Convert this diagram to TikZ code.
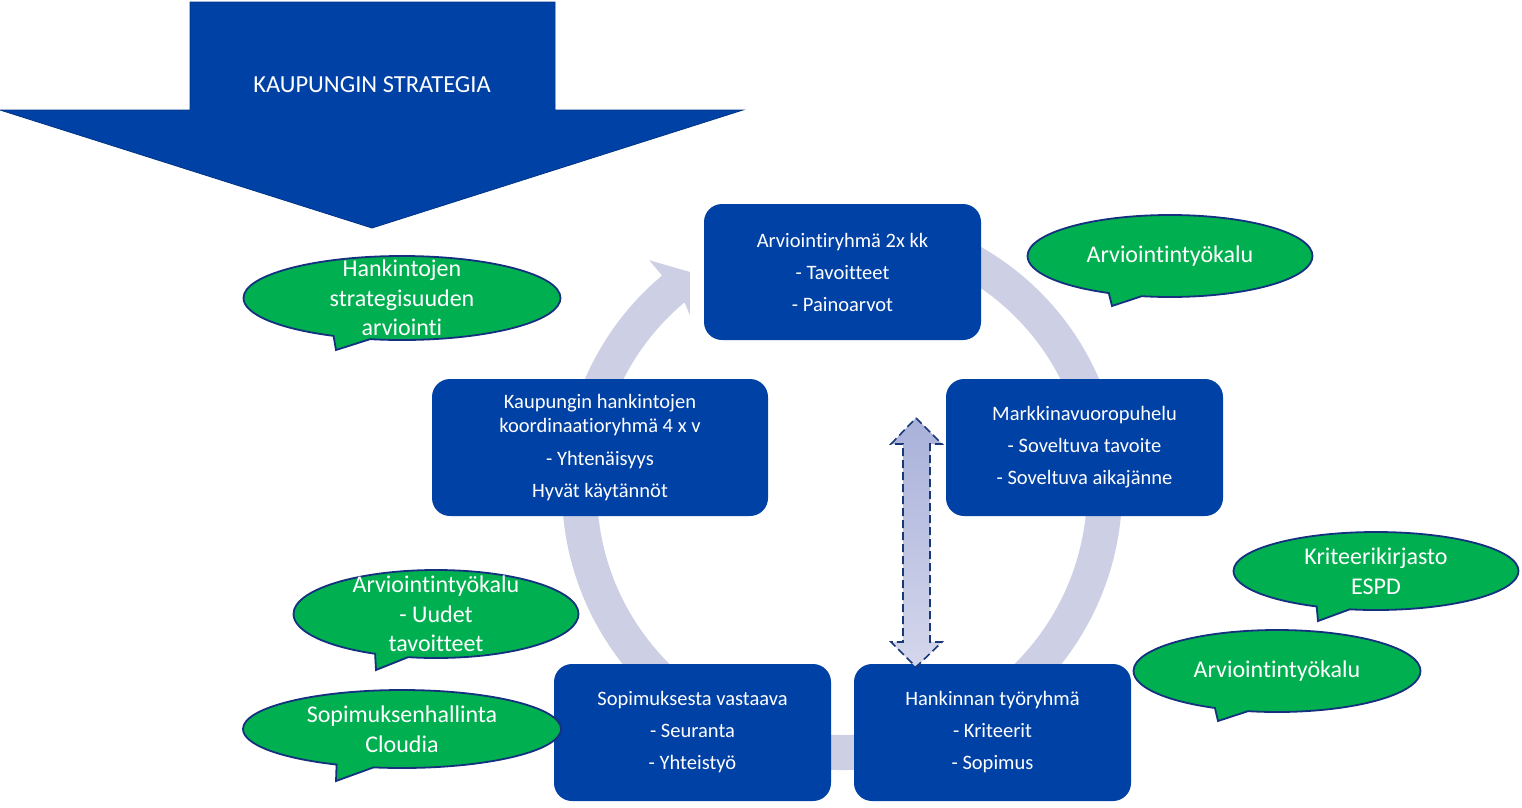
\documentclass[tikz,border=0pt]{standalone}
\usepackage{fontspec}
\setmainfont{Carlito}[Ligatures=CommonOff]
\usetikzlibrary{calc,shapes.callouts}
\definecolor{boxblue}{HTML}{0041A6}
\definecolor{ringgrey}{HTML}{CDD0E4}
\definecolor{callgreen}{HTML}{00B050}
\definecolor{navy}{HTML}{14307F}
\definecolor{dashblue}{HTML}{183878}
\definecolor{shadetop}{HTML}{A9B1DA}
\definecolor{shadebot}{HTML}{D4D7EC}
\begin{document}
\begin{tikzpicture}[x=1pt, y=-1pt,
    box/.style={rounded corners=18pt, fill=boxblue, text=white, align=center, inner sep=0pt,
      font=\fontsize{20.5}{24}\selectfont},
    bubble/.style={ellipse callout, fill=callgreen, draw=navy, line width=1.8pt, inner sep=0pt,
      callout pointer arc=14},
    bubbletext/.style={text=white, align=center, font=\fontsize{24}{29.5}\selectfont}]
  \useasboundingbox (0,0) rectangle (1522,807);
  % strategy arrow
  \filldraw[fill=boxblue, draw=boxblue!80!black, line width=0.8pt]
    (190,2) -- (555,2) -- (555,110) -- (743,110) -- (372,228) -- (0,110) -- (190,110) -- cycle;
  \node[text=white, font=\fontsize{24.5}{28}\selectfont] (strategy) at (372,85) {KAUPUNGIN STRATEGIA};
  % cycle ring
  \coordinate (ctr) at (842,490);
  \fill[ringgrey] ($(ctr)+(-62:280)$) arc[start angle=-62, end angle=230, radius=280]
    -- ($(ctr)+(230:300)$) -- (690,272) -- ($(ctr)+(229:232)$) -- ($(ctr)+(230:245)$)
    arc[start angle=230, end angle=-62, radius=245] -- cycle;
  % boxes
  \node[box, minimum width=277, minimum height=136] (eval) at (842.5,272)
    {Arviointiryhmä 2x kk\\[8pt]- Tavoitteet\\[8pt]- Painoarvot};
  \node[box, minimum width=277, minimum height=137] (market) at (1084.5,447.5)
    {Markkinavuoropuhelu\\[8pt]- Soveltuva tavoite\\[8pt]- Soveltuva aikajänne};
  \node[box, minimum width=336, minimum height=137] (coord) at (600,447.5)
    {Kaupungin hankintojen\\koordinaatioryhmä 4 x v\\[9pt]- Yhtenäisyys\\[8pt]Hyvät käytännöt};
  \node[box, minimum width=277, minimum height=137] (contract) at (692.5,732.5)
    {Sopimuksesta vastaava\\[8pt]- Seuranta\\[8pt]- Yhteistyö};
  \node[box, minimum width=277, minimum height=137] (team) at (992.5,732.5)
    {Hankinnan työryhmä\\[8pt]- Kriteerit\\[8pt]- Sopimus};
  % two-way arrow
  \draw[top color=shadetop, bottom color=shadebot, draw=dashblue, line width=1.6pt,
      dash pattern=on 8pt off 4pt]
    (916,418) -- (942,444) -- (930,444) -- (930,642) -- (942,642) -- (916,667)
    -- (891,642) -- (903,642) -- (903,444) -- (891,444) -- cycle;
  % callouts
  \node[bubble, minimum width=317, minimum height=84, callout absolute pointer={(336,350)}] (strat) at (402,298) {};
  \node[bubbletext] (strattext) at (strat.center) {Hankintojen\\strategisuuden\\arviointi};
  \node[bubble, minimum width=285, minimum height=82, callout absolute pointer={(1112,306)}] (tool1) at (1170,256) {};
  \node[bubbletext] (tool1text) at (tool1.center) {Arviointintyökalu};
  \node[bubble, minimum width=285, minimum height=88, callout absolute pointer={(376,670)}] (tool2) at (436,614) {};
  \node[bubbletext] (tool2text) at (tool2.center) {Arviointintyökalu\\- Uudet\\tavoitteet};
  \node[bubble, minimum width=318, minimum height=78, callout absolute pointer={(336,781)}] (manage) at (402,729) {};
  \node[bubbletext] (managetext) at (manage.center) {Sopimuksenhallinta\\Cloudia};
  \node[bubble, minimum width=285, minimum height=78, callout absolute pointer={(1318,621)}] (crit) at (1376,571) {};
  \node[bubbletext] (crittext) at (crit.center) {Kriteerikirjasto\\ESPD};
  \node[bubble, minimum width=287, minimum height=82, callout absolute pointer={(1218,721)}] (tool3) at (1277,671) {};
  \node[bubbletext] (tool3text) at (tool3.center) {Arviointintyökalu};
\end{tikzpicture}
\end{document}
